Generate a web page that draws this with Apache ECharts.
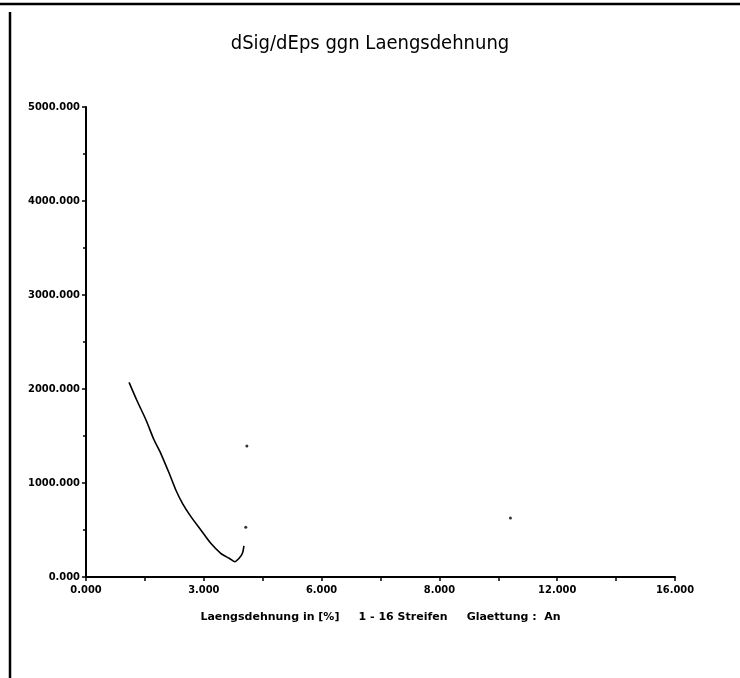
<!DOCTYPE html>
<html>
<head>
<meta charset="utf-8">
<script src="https://cdn.jsdelivr.net/npm/echarts@6/dist/echarts.min.js"></script>
<style>
  html, body { margin: 0; padding: 0; background: #fff; }
  #chart { width: 740px; height: 678px; }
</style>
</head>
<body>
<div id="chart"></div>
<script>
// Laengsdehnung [%] und dSig/dEps der Kurve
var curveX = [1.17, 1.38, 1.63, 1.85, 2.03, 2.26, 2.44, 2.62, 2.85, 3.12, 3.39, 3.66, 3.89, 4.04, 4.16, 4.25, 4.29];
var curveY = [2070, 1880, 1670, 1457, 1316, 1103, 926, 784, 642, 500, 358, 252, 199, 163, 199, 252, 330];
// einzelne Punkte
var dotX = [4.34, 4.37, 11.53];
var dotY = [529, 1394, 628];
// Achsenbeschriftung
var xTickLabels = ['0.000', '3.000', '6.000', '8.000', '12.000', '16.000'];
var yTickLabels = ['0.000', '1000.000', '2000.000', '3000.000', '4000.000', '5000.000'];

var curveData = [];
for (var i = 0; i < curveX.length; i++) curveData.push([curveX[i], curveY[i]]);
var dotData = [];
for (var j = 0; j < dotX.length; j++) dotData.push([dotX[j], dotY[j]]);

var myChart = echarts.init(document.getElementById('chart'));
var labelFont = { color: '#000', fontSize: 11, fontWeight: 'bold', fontFamily: 'DejaVu Sans Condensed, DejaVu Sans' };
var option = {
    backgroundColor: '#fff',
    animation: false,
    title: {
        text: 'dSig/dEps ggn Laengsdehnung',
        left: 'center',
        top: 29,
        textStyle: { color: '#000', fontSize: 20, fontWeight: 'normal', fontFamily: 'DejaVu Sans Condensed, DejaVu Sans' }
    },
    grid: { left: 86, right: 65, top: 107, bottom: 101 },
    //x轴
    xAxis: {
        type: 'value',
        min: 0,
        max: 16,
        interval: 3.2,
        name: 'Laengsdehnung in [%]     1 - 16 Streifen     Glaettung :  An',
        nameLocation: 'middle',
        nameGap: 35,
        nameTextStyle: { color: '#000', fontSize: 11, fontWeight: 'bold', fontFamily: 'DejaVu Sans' },
        axisLine: { lineStyle: { color: '#000', width: 2 } },
        axisTick: { show: true, inside: false, length: 4, lineStyle: { color: '#000', width: 1.5 } },
        minorTick: { show: true, splitNumber: 2, length: 4, lineStyle: { color: '#000', width: 1.5 } },
        splitLine: { show: false },
        axisLabel: Object.assign({
            margin: 8,
            formatter: function (v) { return xTickLabels[Math.round(v / 3.2)]; }
        }, labelFont)
    },
    yAxis: {
        type: 'value',
        min: 0,
        max: 5000,
        interval: 1000,
        axisLine: { show: true, lineStyle: { color: '#000', width: 2 } },
        axisTick: { show: true, length: 4, lineStyle: { color: '#000', width: 1.5 } },
        minorTick: { show: true, splitNumber: 2, length: 3, lineStyle: { color: '#000', width: 1.5 } },
        splitLine: { show: false },
        axisLabel: Object.assign({
            margin: 6,
            formatter: function (v) { return yTickLabels[Math.round(v / 1000)]; }
        }, labelFont)
    },
    // Rahmen vom Scan
    graphic: [
        { type: 'line', shape: { x1: 0, y1: 4, x2: 740, y2: 4 }, style: { stroke: '#000', lineWidth: 2.5 } },
        { type: 'line', shape: { x1: 10, y1: 12, x2: 10, y2: 678 }, style: { stroke: '#000', lineWidth: 2.5 } }
    ],
    series: [
        {
            name: 'Kurve',
            type: 'line',
            smooth: 0.25,
            showSymbol: false,
            lineStyle: { color: '#000', width: 1.6 },
            data: curveData
        },
        {
            name: 'Punkte',
            type: 'scatter',
            symbolSize: 3,
            itemStyle: { color: '#000' },
            data: dotData
        }
    ]
};
myChart.setOption(option);
</script>
</body>
</html>
